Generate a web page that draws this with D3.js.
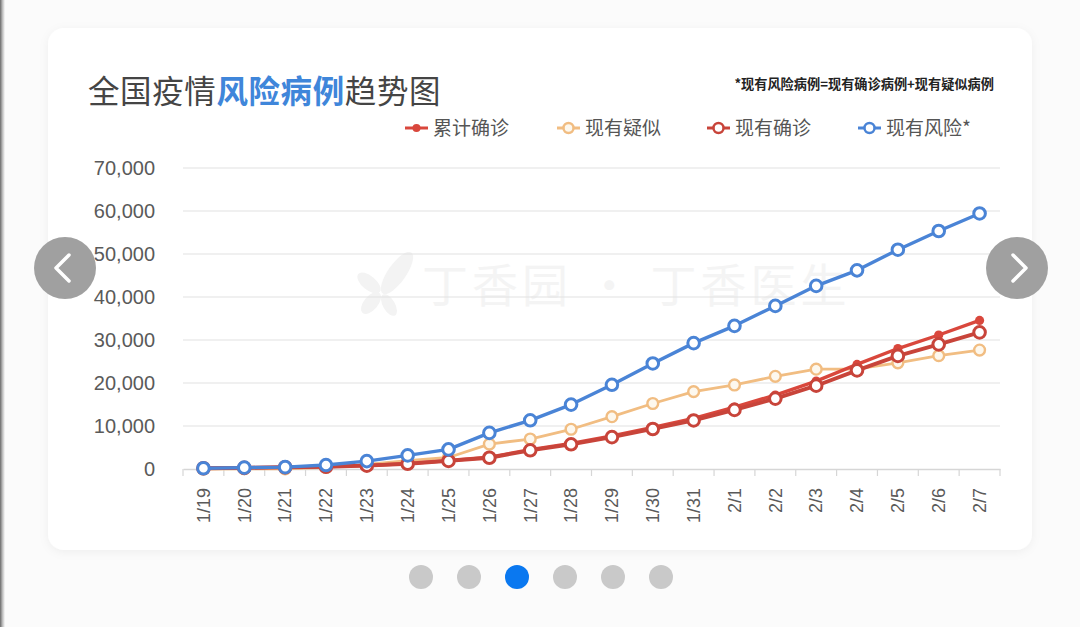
<!DOCTYPE html>
<html><head><meta charset="utf-8">
<script src="https://cdn.jsdelivr.net/npm/d3@7"></script>
<style>
html,body{margin:0;padding:0;background:#fbfbfb;}
svg{display:block;font-family:"Noto Sans CJK SC","Noto Sans",sans-serif;}
</style></head>
<body>
<svg id="c" width="1080" height="627"></svg>
<script>
const dates = ["1/19","1/20","1/21","1/22","1/23","1/24","1/25","1/26","1/27","1/28","1/29","1/30","1/31","2/1","2/2","2/3","2/4","2/5","2/6","2/7"];
const cumulativeConfirmed = [198,291,440,571,830,1287,1975,2744,4515,5974,7711,9692,11791,14380,17205,20438,24324,28018,31161,34546];
const currentSuspected = [0,54,37,393,1072,1965,2684,5794,6973,9239,12167,15238,17988,19544,21558,23214,23260,24702,26359,27657];
const currentConfirmed = [170,260,406,526,771,1208,1870,2613,4349,5739,7417,9308,11289,13748,16369,19381,22942,26302,28985,31774];
const currentRisk = [170,314,443,919,1843,3173,4554,8407,11322,14978,19584,24546,29277,33292,37927,42595,46202,51004,55344,59431];
const yTicks = [0,10000,20000,30000,40000,50000,60000,70000];
const seriesNames = ["累计确诊","现有疑似","现有确诊","现有风险*"];

const svg = d3.select("#c");

const defs = svg.append("defs");
const g1 = defs.append("linearGradient").attr("id","edge").attr("x1",0).attr("x2",1);
g1.append("stop").attr("offset",0).attr("stop-color","#6a6a6a");
g1.append("stop").attr("offset",0.5).attr("stop-color","#bdbdbd");
g1.append("stop").attr("offset",1).attr("stop-color","#fbfbfb");
svg.append("rect").attr("x",0).attr("y",0).attr("width",5).attr("height",627).attr("fill","url(#edge)");

const f = defs.append("filter").attr("id","sh").attr("x","-5%").attr("y","-5%").attr("width","110%").attr("height","115%");
f.append("feDropShadow").attr("dx",0).attr("dy",2).attr("stdDeviation",5).attr("flood-color","#000").attr("flood-opacity",0.05);

// card
svg.append("rect").attr("x",48).attr("y",28).attr("width",984).attr("height",522).attr("rx",16)
  .attr("fill","#ffffff").attr("filter","url(#sh)");

// title
const title = svg.append("text").attr("x",88).attr("y",103).attr("font-size",31.5)
  .attr("letter-spacing",0.6).attr("fill","#454545");
title.append("tspan").text("全国疫情");
title.append("tspan").attr("fill","#3f86da").attr("font-weight","bold").text("风险病例");
title.append("tspan").text("趋势图");

svg.append("text").attr("x",994).attr("y",89).attr("text-anchor","end").attr("font-size",13.2)
  .attr("font-weight","bold").attr("fill","#222").text("*现有风险病例=现有确诊病例+现有疑似病例");

// scales
const x = d3.scaleBand().domain(dates).range([183,1000]);
const cx = d => x(d) + x.bandwidth()/2;
const y = d3.scaleLinear().domain([0,70000]).range([469,168]);

// watermark
const wm = svg.append("g");
wm.append("text").attr("x",422).attr("y",302).attr("font-size",46).attr("fill","#f4f4f4")
  .attr("letter-spacing",4).text("丁香园 · 丁香医生");
const leaf = wm.append("g").attr("transform","translate(385,285)").attr("fill","#f3f3f3");
leaf.append("ellipse").attr("rx",9).attr("ry",25).attr("transform","translate(12,-12) rotate(35)");
leaf.append("ellipse").attr("rx",7).attr("ry",14).attr("transform","translate(-16,-2) rotate(-50)");
leaf.append("ellipse").attr("rx",7).attr("ry",13).attr("transform","translate(-14,18) rotate(40)");
leaf.append("ellipse").attr("rx",6).attr("ry",12).attr("transform","translate(4,20) rotate(-30)");

// grid
svg.append("g").selectAll("line").data(yTicks.slice(1)).join("line")
  .attr("x1",183).attr("x2",1000).attr("y1",d=>y(d)).attr("y2",d=>y(d))
  .attr("stroke","#e2e2e2").attr("stroke-width",1.2);

// y axis labels
const yAxis = svg.append("g").attr("transform","translate(155,0)")
  .call(d3.axisLeft(y).tickValues(yTicks).tickFormat(d3.format(",")).tickSize(0).tickPadding(0));
yAxis.select(".domain").remove();
yAxis.selectAll("text").attr("font-size",20).attr("fill","#5a5a5a").attr("font-family","'Liberation Sans',Arial,sans-serif");

// x axis
const xAxis = svg.append("g").attr("transform","translate(0,469)")
  .call(d3.axisBottom(x).tickSize(0).tickPadding(0));
xAxis.select(".domain").attr("stroke","#d6d6d6").attr("stroke-width",1.5);
xAxis.selectAll(".tick text").attr("font-size",18).attr("fill","#5a5a5a")
  .attr("font-family","'Liberation Sans',Arial,sans-serif")
  .attr("transform","rotate(-90)").attr("text-anchor","end").attr("dy","0.35em").attr("x",-19).attr("y",0);
svg.append("g").selectAll("line").data(d3.range(dates.length+1)).join("line")
  .attr("x1",i=> 183 + i*x.step()).attr("x2",i=>183 + i*x.step())
  .attr("y1",469).attr("y2",476).attr("stroke","#d6d6d6").attr("stroke-width",1.2);

const line = d3.line().x((d,i)=>cx(dates[i])).y(d=>y(d));

function drawSeries(vals, color, width, markerFill, r, filled, sw){
  const g = svg.append("g");
  g.append("path").datum(vals).attr("d",line).attr("fill","none").attr("stroke",color)
    .attr("stroke-width",width).attr("stroke-linejoin","round");
  g.selectAll("circle").data(vals).join("circle")
    .attr("cx",(d,i)=>cx(dates[i])).attr("cy",d=>y(d)).attr("r",r)
    .attr("fill",filled?color:markerFill).attr("stroke",color).attr("stroke-width",filled?0:sw);
}
drawSeries(currentSuspected,"#f1bd82",2.8,"#fdf8ee",5.4,false,2.4);
drawSeries(cumulativeConfirmed,"#d9473c",3.4,"#d9473c",4.6,true,0);
drawSeries(currentConfirmed,"#c8443a",3.8,"#ffffff",5.8,false,3);
drawSeries(currentRisk,"#4a84d6",3.4,"#ffffff",5.8,false,3);

// legend
const legendX = [405,557,707,858];
const legendColors = ["#d9473c","#f1bd82","#c8443a","#4a84d6"];
const lg = svg.append("g");
seriesNames.forEach((n,i)=>{
  const g = lg.append("g").attr("transform",`translate(${legendX[i]},128)`);
  g.append("line").attr("x1",0).attr("x2",23).attr("y1",0).attr("y2",0)
    .attr("stroke",legendColors[i]).attr("stroke-width",3);
  if(i===0){
    g.append("circle").attr("cx",11.5).attr("r",4).attr("fill",legendColors[i]);
  } else {
    g.append("circle").attr("cx",11.5).attr("r",5).attr("fill",i===1?"#fdf8ee":"#fff")
      .attr("stroke",legendColors[i]).attr("stroke-width",2.5);
  }
  g.append("text").attr("x",28).attr("y",7).attr("font-size",19).attr("fill","#555").text(n);
});

// nav buttons
function navBtn(cxp, dir){
  const g = svg.append("g").attr("transform",`translate(${cxp},268)`);
  g.append("circle").attr("r",31).attr("fill","#9b9b9b").attr("opacity",0.95);
  const s = dir;
  g.append("path").attr("d",`M${4*s},-13 L${-9*s},0 L${4*s},13`).attr("fill","none")
    .attr("stroke","#fff").attr("stroke-width",3.5).attr("stroke-linecap","round").attr("stroke-linejoin","round");
}
navBtn(65,1);
navBtn(1017,-1);

// pagination dots
svg.append("g").selectAll("circle").data(d3.range(6)).join("circle")
  .attr("cx",d=>421+d*48).attr("cy",577).attr("r",12)
  .attr("fill",d=>d===2?"#0a78f0":"#c9c9c9");
</script>
</body></html>
